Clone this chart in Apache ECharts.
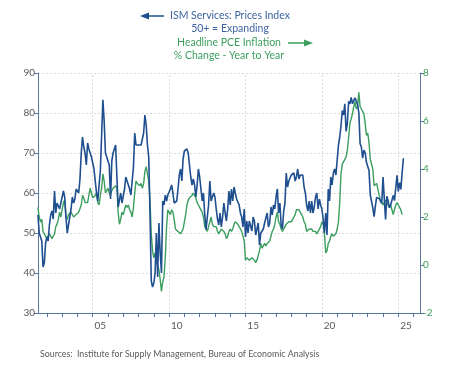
<!DOCTYPE html>
<html>
<head>
<meta charset="utf-8">
<script src="https://cdn.jsdelivr.net/npm/echarts@6/dist/echarts.min.js"></script>
<style>html,body{margin:0;padding:0;background:#fff}#c{width:475px;height:380px}</style>
</head>
<body>
<div id="c"></div>
<script>
// ISM Services Prices Index, monthly, Jun 2001 .. May 2025
const ismStart = [2001, 6];
const ism = [
 54.5, 50, 49.5, 48, 41.5, 42.5, 47.5,
 49, 48, 52, 54.5, 55.5, 53.5, 60.5, 55, 57.5, 57, 56, 57.5,
 58, 60.5, 59, 54, 50, 52, 51.5, 56, 59, 57.5, 58.5, 61,
 61, 60, 63.5, 70, 74, 71.5, 70, 67, 72.5, 71, 71.5, 69,
 68.5, 66, 63, 60, 58, 62, 65.5, 66, 83.3, 78, 70, 69,
 69.5, 67, 58.5, 68, 70, 70, 72, 64, 56.5, 57, 60, 57.5,
 58, 61, 64, 63, 62.5, 61, 59.5, 60, 66.5, 75, 72, 71.5,
 72, 71.5, 72, 72.5, 75, 79.5, 77, 72, 69, 55, 38, 36.5,
 37.5, 40, 50, 39, 52.5, 45, 40, 58, 57, 59.5, 58, 59.5,
 60, 61, 62, 60, 57.5, 57, 58, 61, 64.5, 66, 63, 68.5,
 70.5, 71, 71, 70, 69.5, 64, 62, 63.5, 62, 59, 62, 66,
 64, 61, 58, 60, 54.5, 50.8, 54, 57, 63, 58, 59, 60,
 59, 56, 53.5, 52, 55, 51.5, 54, 57.5, 55, 53, 56, 60.5,
 57, 61, 58, 61.5, 60, 58.5, 59, 57, 55, 54, 51.5, 56,
 49, 53, 50, 53, 52.5, 50.5, 54, 53, 49.5, 50, 52.5, 47,
 50, 49.5, 51, 52.5, 53, 55, 51.5, 52.5, 56.5, 54.5, 57, 56,
 59, 61, 55, 57.5, 52, 51, 55.5, 57.5, 65, 61.5, 63, 62.5,
 64.5, 64, 65, 63, 64, 66, 63.5, 64.5, 64, 64.5, 61.5, 60,
 57, 55.5, 58, 55, 58, 55, 56.5, 59, 60, 56, 58.5, 57,
 56, 53.5, 50, 55, 49.5, 61, 58, 64, 62, 65, 66, 64.5,
 64, 72, 74, 76.8, 80.6, 79.5, 82.3, 75.4, 77.5, 82.9, 82.3, 83.9,
 82.3, 83.1, 83.8, 84.2, 82.1, 80.1, 72.3, 71.5, 68.7, 70.7, 70, 67.6,
 67.8, 65.6, 59.5, 59.6, 56.2, 54.1, 56.8, 58.9, 58.9, 58.6, 58.3, 57.4,
 64.0, 58.6, 53.4, 59.2, 58.1, 56.3, 57.0, 57.3, 59.4, 58.1, 58.2, 64.4,
 60.4, 62.6, 60.9, 65.1, 68.7
];
// Headline PCE inflation, % y/y, monthly, Jun 2001 .. Apr 2025
const pceStart = [2001, 6];
const pce = [
 2.4, 2.0, 1.8, 1.9, 1.4, 1.3, 1.2,
 1.1, 1.2, 1.3, 1.3, 1.1, 1.1, 1.3, 1.6, 1.7, 1.9, 2.2, 2.0,
 2.3, 2.6, 2.7, 2.0, 1.9, 2.1, 2.1, 2.2, 2.1, 2.0, 2.0, 2.1,
 2.1, 2.2, 2.2, 2.5, 2.9, 2.8, 2.6, 2.6, 2.6, 2.9, 3.2, 3.0,
 2.8, 2.8, 2.9, 3.0, 2.6, 2.5, 2.9, 3.2, 3.8, 3.5, 3.0, 3.0,
 3.2, 3.0, 2.9, 3.1, 3.2, 3.2, 3.3, 3.2, 2.2, 1.7, 1.9, 2.2,
 2.1, 2.3, 2.5, 2.4, 2.5, 2.3, 2.2, 2.0, 2.4, 3.0, 3.5, 3.4,
 3.4, 3.3, 3.4, 3.2, 3.4, 3.9, 4.1, 3.8, 3.5, 2.7, 1.3, 0.6,
 0.3, 0.5, 0.1, 0.0, -0.2, -0.6, -1.1, -0.7, -0.5, 0.3, 1.6, 2.3,
 2.3, 2.1, 2.3, 2.2, 1.9, 1.5, 1.5, 1.4, 1.4, 1.3, 1.3, 1.5,
 1.8, 2.1, 2.5, 2.7, 2.8, 2.8, 2.9, 3.0, 3.0, 2.8, 2.6, 2.5,
 2.4, 2.3, 2.2, 2.0, 1.6, 1.5, 1.4, 1.6, 1.8, 2.0, 1.7, 1.6,
 1.6, 1.6, 1.4, 1.3, 1.4, 1.5, 1.5, 1.4, 1.3, 1.1, 1.2, 1.4,
 1.5, 1.4, 1.5, 1.7, 1.8, 1.8, 1.7, 1.6, 1.5, 1.4, 1.2, 1.0,
 0.2, 0.3, 0.3, 0.2, 0.2, 0.3, 0.3, 0.2, 0.1, 0.2, 0.4, 0.6,
 0.9, 0.7, 0.8, 0.9, 0.8, 0.9, 0.9, 1.0, 1.2, 1.4, 1.5, 1.7,
 2.0, 2.2, 1.8, 1.7, 1.5, 1.4, 1.4, 1.6, 1.7, 1.7, 1.8, 1.8,
 1.8, 1.9, 2.0, 2.1, 2.3, 2.3, 2.3, 2.2, 2.1, 2.0, 1.8, 1.7,
 1.4, 1.4, 1.5, 1.5, 1.5, 1.4, 1.4, 1.4, 1.3, 1.4, 1.4, 1.6,
 1.8, 1.7, 1.3, 0.5, 0.6, 0.9, 1.0, 1.2, 1.3, 1.2, 1.2, 1.3,
 1.5, 1.8, 2.6, 3.8, 4.2, 4.3, 4.4, 4.5, 4.8, 5.3, 5.9, 6.1,
 6.3, 6.6, 6.8, 6.5, 6.6, 7.2, 6.6, 6.5, 6.5, 6.3, 5.9, 5.4,
 5.5, 5.1, 4.4, 4.4, 4.0, 3.3, 3.3, 3.4, 3.4, 2.9, 2.7, 2.6,
 2.5, 2.5, 2.7, 2.6, 2.6, 2.4, 2.5, 2.3, 2.1, 2.3, 2.5, 2.6,
 2.5, 2.5, 2.3, 2.1
];
const yearTicks = [2002,2003,2004,2005,2006,2007,2008,2009,2010,2011,2012,2013,2014,2015,2016,2017,2018,2019,2020,2021,2022,2023,2024,2025,2026];
const gridYears = [2005, 2010, 2015, 2020, 2025];
const labelYears = [2005, 2010, 2015, 2020, 2025];
const labelText = ['05', '10', '15', '20', '25'];

function toPairs(start, vals) {
  return vals.map((v, i) => [start[0] + (start[1] - 1 + i) / 12, v]);
}

const BLUE = '#1f4f8f', GREEN = '#3c9e5f', AXIS = '#5a77a3', TXT = '#595959', TBLUE = '#3d65a0';
const FONT = 'Lato';
const TF = '10.5px ' + FONT;

const chart = echarts.init(document.getElementById('c'), null, {renderer: 'canvas'});
chart.setOption({
  animation: false,
  backgroundColor: '#fff',
  grid: {left: 38, right: 55, top: 73, bottom: 67},
  xAxis: {
    type: 'value', min: 2001.42, max: 2026.42,
    axisLine: {show: true, onZero: false, lineStyle: {color: AXIS, width: 1}},
    axisTick: {show: true, customValues: yearTicks, length: 4, lineStyle: {color: AXIS}},
    axisLabel: {
      customValues: labelYears.map(y => y + 0.5),
      formatter: v => labelText[labelYears.indexOf(Math.round(v - 0.5))],
      color: TXT, fontSize: 10, fontFamily: FONT, margin: 8
    },
    splitLine: {show: false}
  },
  yAxis: [{
    type: 'value', min: 30, max: 90, interval: 10, position: 'left',
    axisLine: {show: true, lineStyle: {color: AXIS}},
    axisTick: {show: true, length: 4, lineStyle: {color: AXIS}},
    axisLabel: {color: TXT, fontSize: 10, fontFamily: FONT, margin: 3},
    splitLine: {show: true, lineStyle: {color: '#d9d9d9', type: [2, 2], width: 1}}
  }, {
    type: 'value', min: -2, max: 8, interval: 2, position: 'right',
    axisLine: {show: true, lineStyle: {color: AXIS}},
    axisTick: {show: true, length: 4, lineStyle: {color: AXIS}},
    axisLabel: {color: GREEN, fontSize: 10, fontFamily: FONT, margin: 3},
    splitLine: {show: false}
  }],
  series: [{
    name: 'ISM', type: 'line', yAxisIndex: 0, showSymbol: false,
    data: toPairs(ismStart, ism), z: 3,
    lineStyle: {color: BLUE, width: 1.6},
    markLine: {
      silent: true, symbol: 'none', label: {show: false},
      lineStyle: {color: '#d9d9d9', type: [2, 2], width: 1},
      data: gridYears.map(y => ({xAxis: y})), z: 1
    }
  }, {
    name: 'PCE', type: 'line', yAxisIndex: 1, showSymbol: false,
    data: toPairs(pceStart, pce), z: 2,
    lineStyle: {color: GREEN, width: 1.4}
  }],
  graphic: [
    {type: 'text', x: 230, y: 10, style: {text: 'ISM Services: Prices Index', fill: TBLUE, font: TF, textAlign: 'center'}},
    {type: 'line', shape: {x1: 148, y1: 16, x2: 164, y2: 16}, style: {stroke: BLUE, lineWidth: 1.5}},
    {type: 'polygon', shape: {points: [[140, 16], [149, 12.5], [149, 19.5]]}, style: {fill: BLUE}},
    {type: 'text', x: 230, y: 23, style: {text: '50+ = Expanding', fill: TBLUE, font: TF, textAlign: 'center'}},
    {type: 'text', x: 229, y: 37, style: {text: 'Headline PCE Inflation', fill: GREEN, font: TF, textAlign: 'center'}},
    {type: 'line', shape: {x1: 288, y1: 43, x2: 305, y2: 43}, style: {stroke: GREEN, lineWidth: 1.5}},
    {type: 'polygon', shape: {points: [[313, 43], [304, 39.5], [304, 46.5]]}, style: {fill: GREEN}},
    {type: 'text', x: 229, y: 50, style: {text: '% Change - Year to Year', fill: GREEN, font: TF, textAlign: 'center'}},
    {type: 'text', x: 40, y: 350, style: {text: 'Sources:  Institute for Supply Management, Bureau of Economic Analysis', fill: TXT, font: '8.8px ' + FONT}}
  ]
});
</script>
</body>
</html>
